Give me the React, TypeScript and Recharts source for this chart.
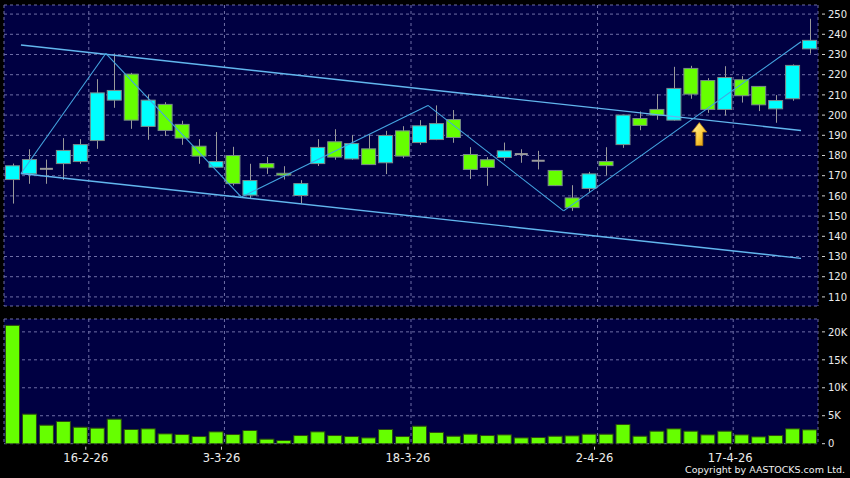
import React from 'react';
import {
  ComposedChart,
  Bar,
  XAxis,
  YAxis,
  CartesianGrid,
  ReferenceLine,
  ReferenceDot,
} from 'recharts';

// ---- data ----
const slotIndex: number[] = Array.from({ length: 48 }, (_, i) => i);

const opens: number[] = [
  168.1, 170.9, 173.4, 176.0, 177.0, 187.4, 207.4, 220.3, 194.4, 205.3,
  195.4, 184.6, 174.2, 180.0, 160.4, 176.0, 171.2, 160.2, 176.0, 186.8,
  178.3, 183.3, 176.4, 192.2, 186.4, 187.9, 197.8, 180.5, 177.9, 179.0,
  180.7, 177.4, 172.6, 159.0, 163.7, 177.0, 185.4, 198.3, 202.8, 197.5,
  223.1, 217.1, 202.8, 217.5, 214.2, 203.1, 208.1, 232.8,
];
const highs: number[] = [
  176.0, 183.1, 178.0, 188.6, 188.1, 217.8, 230.5, 220.9, 210.2, 206.4,
  197.2, 188.1, 191.6, 184.3, 175.9, 179.3, 174.7, 167.8, 188.1, 193.0,
  190.1, 190.4, 192.2, 194.5, 197.5, 204.8, 202.5, 184.1, 179.2, 186.4,
  183.1, 182.3, 172.8, 165.3, 171.9, 184.1, 200.2, 201.8, 210.4, 223.9,
  224.4, 218.3, 224.2, 219.3, 214.4, 209.9, 225.1, 247.7,
];
const lows: number[] = [
  156.2, 166.0, 166.0, 167.9, 175.9, 183.3, 203.6, 193.2, 187.8, 189.7,
  185.3, 175.9, 174.0, 165.1, 158.7, 170.9, 168.1, 156.2, 174.8, 177.9,
  177.9, 175.5, 170.8, 178.7, 185.3, 187.6, 186.3, 168.4, 165.0, 177.4,
  176.4, 173.1, 164.9, 152.6, 162.0, 170.1, 183.8, 192.5, 197.7, 197.3,
  208.1, 201.1, 199.8, 206.2, 202.0, 196.2, 207.1, 230.4,
];
const closes: number[] = [
  174.9, 178.0, 173.4, 182.5, 185.4, 211.0, 212.2, 197.5, 207.4, 192.4,
  188.6, 179.7, 177.0, 166.1, 167.6, 173.9, 170.3, 166.1, 184.0, 179.2,
  185.9, 175.5, 189.9, 179.7, 194.7, 195.8, 188.9, 173.1, 174.1, 182.3,
  180.7, 177.4, 165.1, 154.2, 170.9, 175.0, 200.0, 194.9, 200.0, 213.2,
  210.4, 202.8, 218.6, 209.6, 205.1, 207.2, 224.6, 237.0,
];
const volumes: number[] = [
  21250, 5370, 3400, 4060, 3040, 2870, 4480, 2630, 2750, 1850,
  1730, 1370, 2210, 1730, 2450, 900, 660, 1550, 2210, 1550,
  1370, 1130, 2630, 1370, 3220, 2100, 1430, 1790, 1550, 1670,
  1130, 1190, 1430, 1490, 1790, 1790, 3520, 1430, 2330, 2750,
  2330, 1670, 2330, 1670, 1310, 1550, 2750, 2570,
];

const dateTicks: number[] = [4.5, 12.5, 23.5, 34.5, 42.5];
const dateLabels: string[] = ['16-2-26', '3-3-26', '18-3-26', '2-4-26', '17-4-26'];
const priceTicks: number[] = [110, 120, 130, 140, 150, 160, 170, 180, 190, 200, 210, 220, 230, 240, 250];
const volumeTicks: number[] = [0, 5000, 10000, 15000, 20000];

const upperChannelX: number[] = [0.5, 46.5];
const upperChannelY: number[] = [234.7, 192.4];
const lowerChannelX: number[] = [0.5, 46.5];
const lowerChannelY: number[] = [171.1, 129.1];
const zigzagX: number[] = [0.5, 5.5, 13.5, 24.5, 32.5, 46.5];
const zigzagY: number[] = [171.1, 230.5, 159.4, 204.8, 152.6, 236.3];

const arrowX = 40.5;
const arrowY = 190.6;

// ---- derived tables ----
const priceData = slotIndex.map((i) => ({
  x: i,
  open: opens[i],
  high: highs[i],
  low: lows[i],
  close: closes[i],
  range: [lows[i], highs[i]],
}));
const volumeData = slotIndex.map((i) => ({ x: i, volume: volumes[i] }));

const W = 850;
const CYAN = '#00ffff';
const GREEN = '#66ff00';
const GRID = '#6e6ea6';
const PLOT_BG = '#000042';
const FONT = 'DejaVu Sans, Verdana, sans-serif';

const Candle = (props: any) => {
  const { x, y, width, height, payload } = props;
  if (x == null || y == null) return null;
  const { open, close, high, low } = payload;
  const ppu = high - low > 0 ? height / (high - low) : 0;
  const yOf = (v: number) => y + (high - v) * ppu;
  const cx = Math.round(x + width / 2) + 0.5;
  const top = yOf(Math.max(open, close));
  const bot = yOf(Math.min(open, close));
  const isDoji = Math.abs(open - close) < 0.05;
  const fill = close > open ? CYAN : GREEN;
  return (
    <g>
      <line x1={cx} x2={cx} y1={y} y2={y + height} stroke="#9a9a9a" strokeWidth={1} />
      {isDoji ? (
        <line x1={x + 1} x2={x + width - 1} y1={top} y2={top} stroke="#9a9a9a" strokeWidth={2} />
      ) : (
        <rect
          x={x + 0.5}
          y={top}
          width={width - 1}
          height={Math.max(bot - top, 1.5)}
          fill={fill}
          stroke="#7a8a8a"
          strokeWidth={1}
        />
      )}
    </g>
  );
};

const VolumeBar = (props: any) => {
  const { x, y, width, height } = props;
  if (x == null || height == null || height <= 0) return null;
  return (
    <rect x={x + 0.5} y={y + 0.5} width={width - 1} height={height - 0.5} fill={GREEN} stroke="#2c4a10" strokeWidth={1} />
  );
};

const PriceTick = (props: any) => {
  const { x, y, payload } = props;
  return (
    <g>
      <line x1={x + 4} x2={x + 7} y1={y} y2={y} stroke="#d0d0d0" strokeWidth={1} />
      <text x={x + 10} y={y} dy={3.7} fill="#ececec" fontSize={10} fontFamily={FONT} textAnchor="start">
        {payload.value}
      </text>
    </g>
  );
};

const VolumeTick = (props: any) => {
  const { x, y, payload } = props;
  const v = payload.value;
  const label = v === 0 ? '0' : `${v / 1000}K`;
  return (
    <g>
      <line x1={x + 4} x2={x + 7} y1={y} y2={y} stroke="#d0d0d0" strokeWidth={1} />
      <text x={x + 10} y={y} dy={3.7} fill="#ececec" fontSize={10} fontFamily={FONT} textAnchor="start">
        {label}
      </text>
    </g>
  );
};

const DateTick = (props: any) => {
  const { x, y, payload } = props;
  const idx = dateTicks.indexOf(payload.value);
  const label = idx >= 0 ? dateLabels[idx] : '';
  return (
    <g>
      <line x1={x - 3} x2={x - 3} y1={y + 3} y2={y + 6} stroke="#d0d0d0" strokeWidth={1} />
      <text x={x - 3} y={y + 18} fill="#ececec" fontSize={11.5} fontFamily={FONT} textAnchor="middle">
        {label}
      </text>
    </g>
  );
};

const Arrow = (props: any) => {
  const { cx, cy } = props;
  if (cx == null || cy == null) return null;
  const d = `M ${cx} ${cy - 11.5} L ${cx + 7.5} ${cy - 2} L ${cx + 3.5} ${cy - 2} L ${cx + 3.5} ${cy + 11.5} L ${cx - 3.5} ${cy + 11.5} L ${cx - 3.5} ${cy - 2} L ${cx - 7.5} ${cy - 2} Z`;
  return (
    <g>
      <defs>
        <linearGradient id="arrowGrad" x1="0" y1="0" x2="1" y2="1">
          <stop offset="0%" stopColor="#fff6b0" />
          <stop offset="55%" stopColor="#ffd040" />
          <stop offset="100%" stopColor="#d89000" />
        </linearGradient>
      </defs>
      <path d={d} fill="url(#arrowGrad)" stroke="#b07a10" strokeWidth={0.8} />
    </g>
  );
};

const segs = (xs: number[], ys: number[]) =>
  xs.slice(0, -1).map((x, i) => [
    { x, y: ys[i] },
    { x: xs[i + 1], y: ys[i + 1] },
  ]);

export default function App() {
  return (
    <div
      style={{
        position: 'absolute',
        left: 0,
        top: 0,
        width: W,
        height: 478,
        background: '#000',
        overflow: 'hidden',
      }}
    >
      <div style={{ position: 'absolute', left: 0, top: 0 }}>
        <ComposedChart width={W} height={310} data={priceData} margin={{ top: 5, right: 0, bottom: 4, left: 4 }}>
          <CartesianGrid fill={PLOT_BG} stroke={GRID} strokeDasharray="3 3" />
          <XAxis
            dataKey="x"
            type="number"
            domain={[-0.5, 47.5]}
            ticks={dateTicks}
            allowDataOverflow
            hide
          />
          <YAxis
            orientation="right"
            width={32}
            type="number"
            domain={[105.5, 254.5]}
            ticks={priceTicks}
            allowDataOverflow
            axisLine={false}
            tickLine={false}
            tickSize={0}
            tickMargin={0}
            tick={<PriceTick />}
            interval={0}
          />
          <Bar dataKey="range" barSize={15} shape={<Candle />} isAnimationActive={false} />
          {segs(upperChannelX, upperChannelY).map((s, i) => (
            <ReferenceLine key={`u${i}`} segment={s} stroke="#62b6ee" strokeWidth={1.4} />
          ))}
          {segs(lowerChannelX, lowerChannelY).map((s, i) => (
            <ReferenceLine key={`l${i}`} segment={s} stroke="#62b6ee" strokeWidth={1.4} />
          ))}
          {segs(zigzagX, zigzagY).map((s, i) => (
            <ReferenceLine key={`z${i}`} segment={s} stroke="#44a4e0" strokeWidth={1.1} />
          ))}
          <ReferenceDot x={arrowX} y={arrowY} r={0} shape={<Arrow />} />
        </ComposedChart>
      </div>
      <div style={{ position: 'absolute', left: 0, top: 310 }}>
        <ComposedChart width={W} height={168} data={volumeData} margin={{ top: 9, right: 0, bottom: 0, left: 4 }}>
          <CartesianGrid fill={PLOT_BG} stroke={GRID} strokeDasharray="3 3" />
          <XAxis
            dataKey="x"
            type="number"
            domain={[-0.5, 47.5]}
            ticks={dateTicks}
            allowDataOverflow
            height={34.3}
            axisLine={false}
            tickLine={false}
            tickSize={0}
            tickMargin={0}
            tick={<DateTick />}
            interval={0}
          />
          <YAxis
            orientation="right"
            width={32}
            type="number"
            domain={[0, 22300]}
            ticks={volumeTicks}
            allowDataOverflow
            axisLine={false}
            tickLine={false}
            tickSize={0}
            tickMargin={0}
            tick={<VolumeTick />}
            interval={0}
          />
          <Bar dataKey="volume" barSize={15} shape={<VolumeBar />} isAnimationActive={false} />
        </ComposedChart>
      </div>
      <div
        style={{
          position: 'absolute',
          right: 5,
          top: 464,
          color: '#f0f0f0',
          fontSize: 9.5,
          lineHeight: '12px',
          fontFamily: FONT,
          whiteSpace: 'nowrap',
        }}
      >
        Copyright by AASTOCKS.com Ltd.
      </div>
    </div>
  );
}
